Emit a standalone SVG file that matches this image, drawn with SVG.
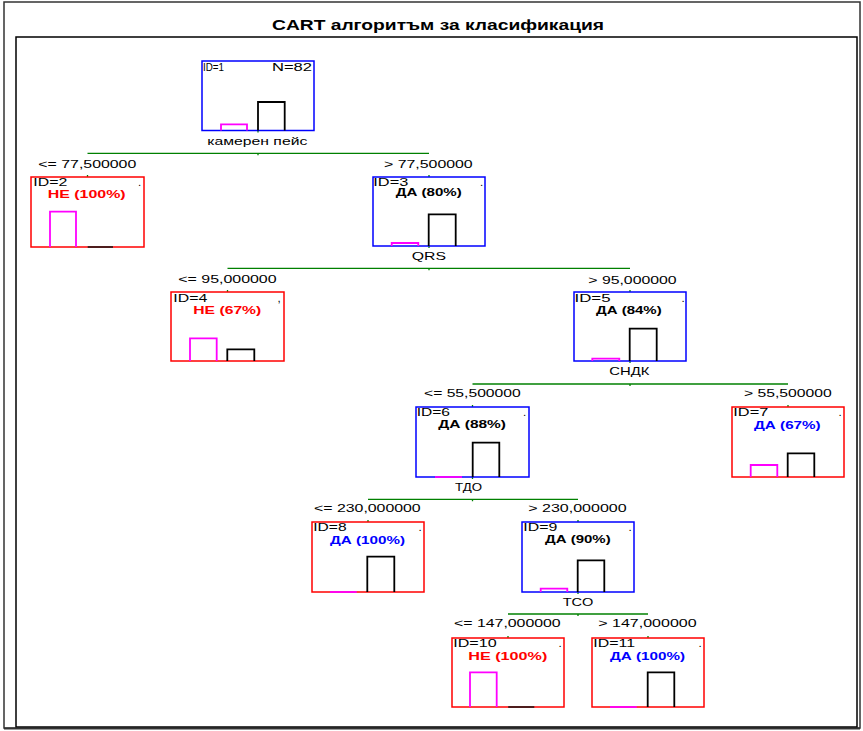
<svg xmlns="http://www.w3.org/2000/svg" width="863" height="731" viewBox="0 0 863 731">
<style>
text{font-family:"Liberation Sans",Arial,sans-serif;}
.title{font-size:15px;font-weight:bold;fill:#000;}
.t{font-size:11.5px;fill:#000;}
.c{font-size:11px;font-weight:bold;}
.red{fill:#FF0000;}
.blue{fill:#0000FF;}
.blk{fill:#000;}
.nb{fill:#fff;stroke:#0000FF;stroke-width:1.5;}
.nr{fill:#fff;stroke:#FF0000;stroke-width:1.5;}
.bm{fill:none;stroke:#FF00FF;stroke-width:1.8;}
.bk{fill:none;stroke:#000;stroke-width:1.8;}
.bz{fill:none;stroke:#3a1a1a;stroke-width:1.8;}
.g{fill:none;stroke:#008000;stroke-width:1.3;}
.frame{fill:none;stroke:#333;stroke-width:1.5;}
</style>
<rect x="0" y="0" width="863" height="731" fill="#fff"/>
<rect class="frame" x="4" y="2" width="856" height="726"/>
<rect x="16" y="37" width="841" height="690" fill="none" stroke="#000" stroke-width="1.5"/>
<line x1="4" y1="728.5" x2="860" y2="728.5" stroke="#333" stroke-width="2"/>
<text class="title" x="272" y="30" textLength="332" lengthAdjust="spacingAndGlyphs">CART алгоритъм за класификация</text>

<g id="connectors">
<path class="g" d="M87.5 153.3H429"/>
<path class="g" d="M258 130.5v2M258 153.3v2M87.5 175v2M429 175v2"/>
<path class="g" d="M227.5 268.3H630"/>
<path class="g" d="M429 246v2M429 268.3v2M227.5 290v2M630 290v2"/>
<path class="g" d="M472.5 384H788"/>
<path class="g" d="M630 361v2M630 384v2M472.5 405v2M788 405v2"/>
<path class="g" d="M368 499.3H578"/>
<path class="g" d="M472.5 477v2M472.5 499.3v2M368 520v2M578 520v2"/>
<path class="g" d="M508 614H648"/>
<path class="g" d="M578 592v2M578 614v2M508 636v2M648 636v2"/>
</g>

<g id="node1">
<rect class="nb" x="202" y="61" width="112" height="69.5"/>
<text class="t" x="203" y="71" textLength="21" lengthAdjust="spacingAndGlyphs">ID=1</text>
<text class="t" x="272" y="71" textLength="40" lengthAdjust="spacingAndGlyphs">N=82</text>
<path class="bm" d="M221 130.5V124.3H247V130.5"/>
<path class="bk" d="M258 130.5V102H284.7V130.5"/>
<text class="t" x="207.3" y="145" textLength="100" lengthAdjust="spacingAndGlyphs">камерен пейс</text>
</g>

<g id="node2">
<text class="t" x="38.3" y="167.5" textLength="98" lengthAdjust="spacingAndGlyphs">&lt;= 77,500000</text>
<rect class="nr" x="31" y="177" width="113" height="70"/>
<text class="t" x="33.3" y="186" textLength="34" lengthAdjust="spacingAndGlyphs">ID=2</text>
<text class="t" x="138" y="186">.</text>
<text class="c red" x="47.7" y="198" textLength="78" lengthAdjust="spacingAndGlyphs">НЕ (100%)</text>
<path class="bm" d="M50 247V211.7H76V247"/>
<path class="bz" d="M87.7 247H113"/>
</g>

<g id="node3">
<text class="t" x="384" y="167.5" textLength="88.7" lengthAdjust="spacingAndGlyphs">&gt; 77,500000</text>
<rect class="nb" x="373" y="177" width="112" height="69"/>
<text class="t" x="373.3" y="186" textLength="35" lengthAdjust="spacingAndGlyphs">ID=3</text>
<text class="t" x="480" y="186">.</text>
<text class="c blk" x="395.7" y="196" textLength="66" lengthAdjust="spacingAndGlyphs">ДА (80%)</text>
<path class="bm" d="M391.7 246V243H418.3V246"/>
<path class="bk" d="M428.7 246V214.3H455.7V246"/>
<text class="t" x="411.7" y="260" textLength="34.3" lengthAdjust="spacingAndGlyphs">QRS</text>
</g>

<g id="node4">
<text class="t" x="178.3" y="283" textLength="98.3" lengthAdjust="spacingAndGlyphs">&lt;= 95,000000</text>
<rect class="nr" x="171" y="292" width="113" height="69"/>
<text class="t" x="173.3" y="301.5" textLength="34" lengthAdjust="spacingAndGlyphs">ID=4</text>
<text class="t" x="277.5" y="301.5">,</text>
<text class="c red" x="193.3" y="313.5" textLength="68" lengthAdjust="spacingAndGlyphs">НЕ (67%)</text>
<path class="bm" d="M190 361V338.3H216.7V361"/>
<path class="bk" d="M227.3 361V349.3H254.3V361"/>
</g>

<g id="node5">
<text class="t" x="588.3" y="284" textLength="88.3" lengthAdjust="spacingAndGlyphs">&gt; 95,000000</text>
<rect class="nb" x="574" y="292" width="112" height="69"/>
<text class="t" x="574.5" y="301.5" textLength="36" lengthAdjust="spacingAndGlyphs">ID=5</text>
<text class="t" x="681.5" y="301.5">.</text>
<text class="c blk" x="596" y="314.3" textLength="65.7" lengthAdjust="spacingAndGlyphs">ДА (84%)</text>
<path class="bm" d="M592.3 361V358.7H619.3V361"/>
<path class="bk" d="M629.7 361V328.7H656.7V361"/>
<text class="t" x="609.3" y="375" textLength="40" lengthAdjust="spacingAndGlyphs">СНДК</text>
</g>

<g id="node6">
<text class="t" x="424" y="397.3" textLength="96.7" lengthAdjust="spacingAndGlyphs">&lt;= 55,500000</text>
<rect class="nb" x="416" y="407" width="113" height="70"/>
<text class="t" x="416.7" y="416" textLength="33.3" lengthAdjust="spacingAndGlyphs">ID=6</text>
<text class="t" x="523" y="416">.</text>
<text class="c blk" x="438.3" y="428.3" textLength="67.7" lengthAdjust="spacingAndGlyphs">ДА (88%)</text>
<path class="bm" d="M435 477H462"/>
<path class="bk" d="M472.7 477V442.7H499.3V477"/>
<text class="t" x="455" y="490.5" textLength="27" lengthAdjust="spacingAndGlyphs">ТДО</text>
</g>

<g id="node7">
<text class="t" x="744" y="397.3" textLength="87.7" lengthAdjust="spacingAndGlyphs">&gt; 55,500000</text>
<rect class="nr" x="732" y="407" width="112" height="70"/>
<text class="t" x="733.3" y="416" textLength="35" lengthAdjust="spacingAndGlyphs">ID=7</text>
<text class="t" x="838.5" y="416">.</text>
<text class="c blue" x="754" y="429" textLength="66.7" lengthAdjust="spacingAndGlyphs">ДА (67%)</text>
<path class="bm" d="M750.7 477V465H777.3V477"/>
<path class="bk" d="M787.7 477V453.3H814.3V477"/>
</g>

<g id="node8">
<text class="t" x="314" y="512.3" textLength="106.7" lengthAdjust="spacingAndGlyphs">&lt;= 230,000000</text>
<rect class="nr" x="312" y="522" width="112" height="70"/>
<text class="t" x="313.3" y="531" textLength="33.3" lengthAdjust="spacingAndGlyphs">ID=8</text>
<text class="t" x="418.5" y="531">.</text>
<text class="c blue" x="330" y="544" textLength="75" lengthAdjust="spacingAndGlyphs">ДА (100%)</text>
<path class="bm" d="M330 592H356.7"/>
<path class="bk" d="M367.3 592V556.7H394.3V592"/>
</g>

<g id="node9">
<text class="t" x="528.3" y="512.3" textLength="98.3" lengthAdjust="spacingAndGlyphs">&gt; 230,000000</text>
<rect class="nb" x="522" y="522" width="112" height="70"/>
<text class="t" x="523.3" y="531" textLength="34" lengthAdjust="spacingAndGlyphs">ID=9</text>
<text class="t" x="628.5" y="531">.</text>
<text class="c blk" x="545" y="543" textLength="65.7" lengthAdjust="spacingAndGlyphs">ДА (90%)</text>
<path class="bm" d="M540.7 592V588.7H567.3V592"/>
<path class="bk" d="M577.7 592V560.3H604.3V592"/>
<text class="t" x="562.7" y="605.5" textLength="30.7" lengthAdjust="spacingAndGlyphs">TCO</text>
</g>

<g id="node10">
<text class="t" x="454" y="627.3" textLength="106.7" lengthAdjust="spacingAndGlyphs">&lt;= 147,000000</text>
<rect class="nr" x="452" y="638" width="112" height="69"/>
<text class="t" x="453.3" y="646.5" textLength="43.3" lengthAdjust="spacingAndGlyphs">ID=10</text>
<text class="t" x="558.5" y="646.5">.</text>
<text class="c red" x="468.3" y="660" textLength="79" lengthAdjust="spacingAndGlyphs">НЕ (100%)</text>
<path class="bm" d="M470 707V672.3H496.7V707"/>
<path class="bz" d="M508.3 707H534.3"/>
</g>

<g id="node11">
<text class="t" x="598.3" y="627.3" textLength="98.3" lengthAdjust="spacingAndGlyphs">&gt; 147,000000</text>
<rect class="nr" x="592" y="638" width="112" height="69"/>
<text class="t" x="593.3" y="646.5" textLength="41.7" lengthAdjust="spacingAndGlyphs">ID=11</text>
<text class="t" x="698.5" y="646.5">.</text>
<text class="c blue" x="610" y="659.5" textLength="75" lengthAdjust="spacingAndGlyphs">ДА (100%)</text>
<path class="bm" d="M610 707H636.7"/>
<path class="bk" d="M647.7 707V672.3H674.3V707"/>
</g>
</svg>
